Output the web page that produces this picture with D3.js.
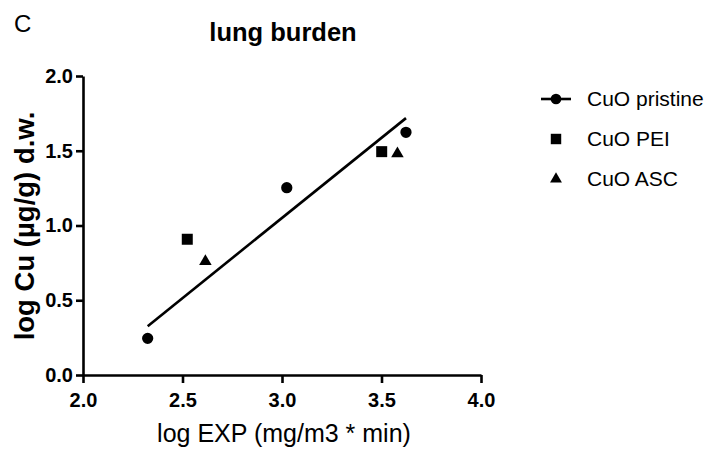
<!DOCTYPE html>
<html>
<head>
<meta charset="utf-8">
<style>
  body { margin: 0; background: #fff; }
  svg { font-family: Arial, 'Liberation Sans', sans-serif; }
  .axis .domain, .axis .tick line { stroke: #000; stroke-width: 2.6px; }
  .axis .tick text { font-size: 20px; font-weight: bold; fill: #000; }
</style>
</head>
<body>
<svg width="710" height="452"></svg>
<script src="https://d3js.org/d3.v7.min.js"></script>
<script>
// data
const seriesNames = ["CuO pristine", "CuO PEI", "CuO ASC"];
const pristineX = [2.325, 3.024, 3.623];
const pristineY = [0.245, 1.253, 1.623];
const peiX = [2.524, 3.501];
const peiY = [0.908, 1.494];
const ascX = [2.615, 3.58];
const ascY = [0.76, 1.48];
const xTicks = [2.0, 2.5, 3.0, 3.5, 4.0];
const yTicks = [0.0, 0.5, 1.0, 1.5, 2.0];

const svg = d3.select("svg");

const x = d3.scaleLinear().domain([2, 4]).range([83, 481]);
const y = d3.scaleLinear().domain([0, 2]).range([375, 76]);

// axes
svg.append("g")
  .attr("class", "axis")
  .attr("transform", "translate(0," + y(0) + ")")
  .call(d3.axisBottom(x).tickValues(xTicks).tickSize(8).tickSizeOuter(0).tickPadding(10)
    .tickFormat(d3.format(".1f")));

svg.append("g")
  .attr("class", "axis")
  .attr("transform", "translate(" + x(2) + ",0)")
  .call(d3.axisLeft(y).tickValues(yTicks).tickSize(7).tickSizeOuter(0).tickPadding(3)
    .tickFormat(d3.format(".1f")));

// regression line through the pristine points
const mx = d3.mean(pristineX), my = d3.mean(pristineY);
const sxy = d3.sum(pristineX, (v, i) => (v - mx) * (pristineY[i] - my));
const sxx = d3.sum(pristineX, v => (v - mx) * (v - mx));
const slope = sxy / sxx, icpt = my - slope * mx;
const fitX = d3.extent(pristineX);

svg.append("line")
  .attr("x1", x(fitX[0])).attr("y1", y(icpt + slope * fitX[0]))
  .attr("x2", x(fitX[1])).attr("y2", y(icpt + slope * fitX[1]))
  .style("stroke", "#000").style("stroke-width", 2.6);

// markers
const shapes = [d3.symbolCircle, d3.symbolSquare, d3.symbolTriangle];
const sizes = [100, 121, 68];
const groups = [
  { xs: pristineX, ys: pristineY },
  { xs: peiX, ys: peiY },
  { xs: ascX, ys: ascY }
];

groups.forEach(function (g, k) {
  svg.selectAll(null)
    .data(g.xs.map((v, i) => [v, g.ys[i]]))
    .enter().append("path")
    .attr("d", d3.symbol().type(shapes[k]).size(sizes[k]))
    .attr("transform", d => "translate(" + x(d[0]) + "," + y(d[1]) + ")")
    .style("fill", "#000");
});

// legend
const legend = svg.append("g").attr("transform", "translate(556,99)");
seriesNames.forEach(function (name, k) {
  const row = legend.append("g").attr("transform", "translate(0," + (k * 40) + ")");
  if (k === 0) {
    row.append("line").attr("x1", -15).attr("x2", 15).attr("y1", 0).attr("y2", 0)
      .style("stroke", "#000").style("stroke-width", 2.6);
  }
  row.append("path")
    .attr("d", d3.symbol().type(shapes[k]).size(k === 0 ? 90 : sizes[k] * 0.9))
    .style("fill", "#000");
  row.append("text")
    .attr("x", 31).attr("y", 7)
    .style("font-size", "21px")
    .text(name);
});

// titles
svg.append("text")
  .attr("x", 14).attr("y", 32)
  .style("font-size", "24px")
  .text("C");

svg.append("text")
  .attr("x", 283).attr("y", 41)
  .attr("text-anchor", "middle")
  .style("font-size", "25.5px").style("font-weight", "bold")
  .text("lung burden");

svg.append("text")
  .attr("transform", "translate(34,226) rotate(-90)")
  .attr("text-anchor", "middle")
  .style("font-size", "27.5px").style("font-weight", "bold")
  .text("log Cu (\u00b5g/g) d.w.");

svg.append("text")
  .attr("x", 284).attr("y", 442)
  .attr("text-anchor", "middle")
  .style("font-size", "25px")
  .text("log EXP (mg/m3 * min)");
</script>
</body>
</html>
